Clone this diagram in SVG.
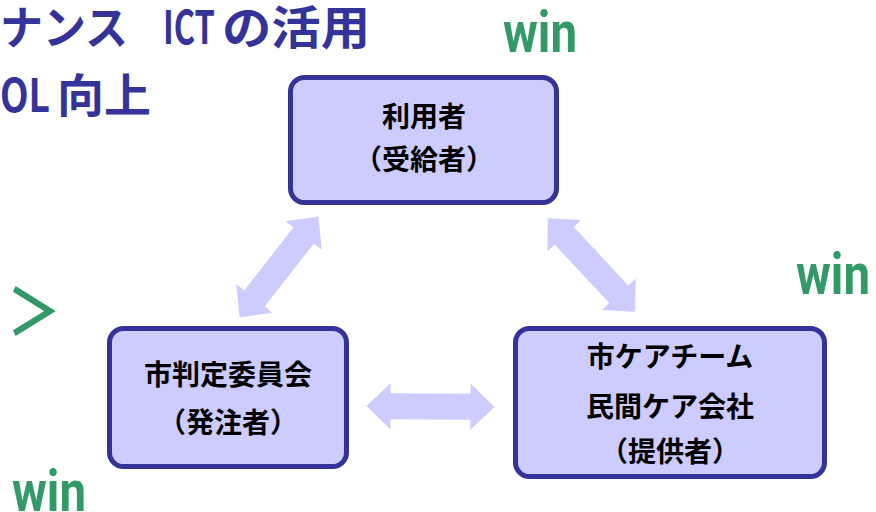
<svg xmlns="http://www.w3.org/2000/svg" width="876" height="512" viewBox="0 0 876 512">
<style>
.node rect{fill:#CCCCFF;stroke:#333399;stroke-width:5}
.node text{font-family:"Noto Sans CJK JP",sans-serif;font-weight:bold;font-size:28px;fill:#000;text-anchor:middle}
.head{font-family:"Noto Sans CJK JP",sans-serif;font-weight:bold;font-size:46px;fill:#333399}
.win{font-family:Roboto,"Liberation Sans",sans-serif;font-weight:bold;font-size:58px;fill:#339966}
.arrow{fill:#CCCCFF}
</style>
<defs>
<path id="dbl" d="M -64 0 L -40 -23 L -40 -13 L 40 -13 L 40 -23 L 64 0 L 40 23 L 40 13 L -40 13 L -40 23 Z"/>
</defs>
<g id="heading">
<text class="head" y="44"><tspan x="0" textLength="128" lengthAdjust="spacingAndGlyphs">ナンス</tspan><tspan x="163" textLength="52" lengthAdjust="spacingAndGlyphs">ICT</tspan><tspan x="222" textLength="148" lengthAdjust="spacingAndGlyphs">の活用</tspan></text>
<text class="head" y="112"><tspan x="0" textLength="50" lengthAdjust="spacingAndGlyphs">OL</tspan><tspan x="57" textLength="94" lengthAdjust="spacingAndGlyphs">向上</tspan></text>
</g>
<g id="labels">
<text class="win" x="503" y="52" textLength="74" lengthAdjust="spacingAndGlyphs">win</text>
<text class="win" x="796" y="294" textLength="74" lengthAdjust="spacingAndGlyphs">win</text>
<text class="win" x="12" y="511" textLength="74" lengthAdjust="spacingAndGlyphs">win</text>
<text x="7" y="335" style="font-family:'Noto Sans CJK JP',sans-serif;font-weight:bold;font-size:64px;fill:#339966" textLength="54" lengthAdjust="spacingAndGlyphs">＞</text>
</g>
<g id="connectors" class="arrow">
<use href="#dbl" transform="translate(279,267) rotate(-52)"/>
<use href="#dbl" transform="translate(591.5,265) rotate(47)"/>
<use href="#dbl" transform="translate(430.5,406.5) rotate(0.4)"/>
</g>
<g id="user" class="node">
<rect x="290.5" y="77.5" width="266" height="125" rx="14"/>
<text x="424" y="127">利用者</text>
<text x="424" y="170">（受給者）</text>
</g>
<g id="committee" class="node">
<rect x="109.5" y="328.5" width="237" height="138" rx="14"/>
<text x="228" y="385">市判定委員会</text>
<text x="228" y="433">（発注者）</text>
</g>
<g id="provider" class="node">
<rect x="515.5" y="328.5" width="309" height="148" rx="14"/>
<text x="670" y="367">市ケアチーム</text>
<text x="670" y="417">民間ケア会社</text>
<text x="670" y="462">（提供者）</text>
</g>
</svg>
